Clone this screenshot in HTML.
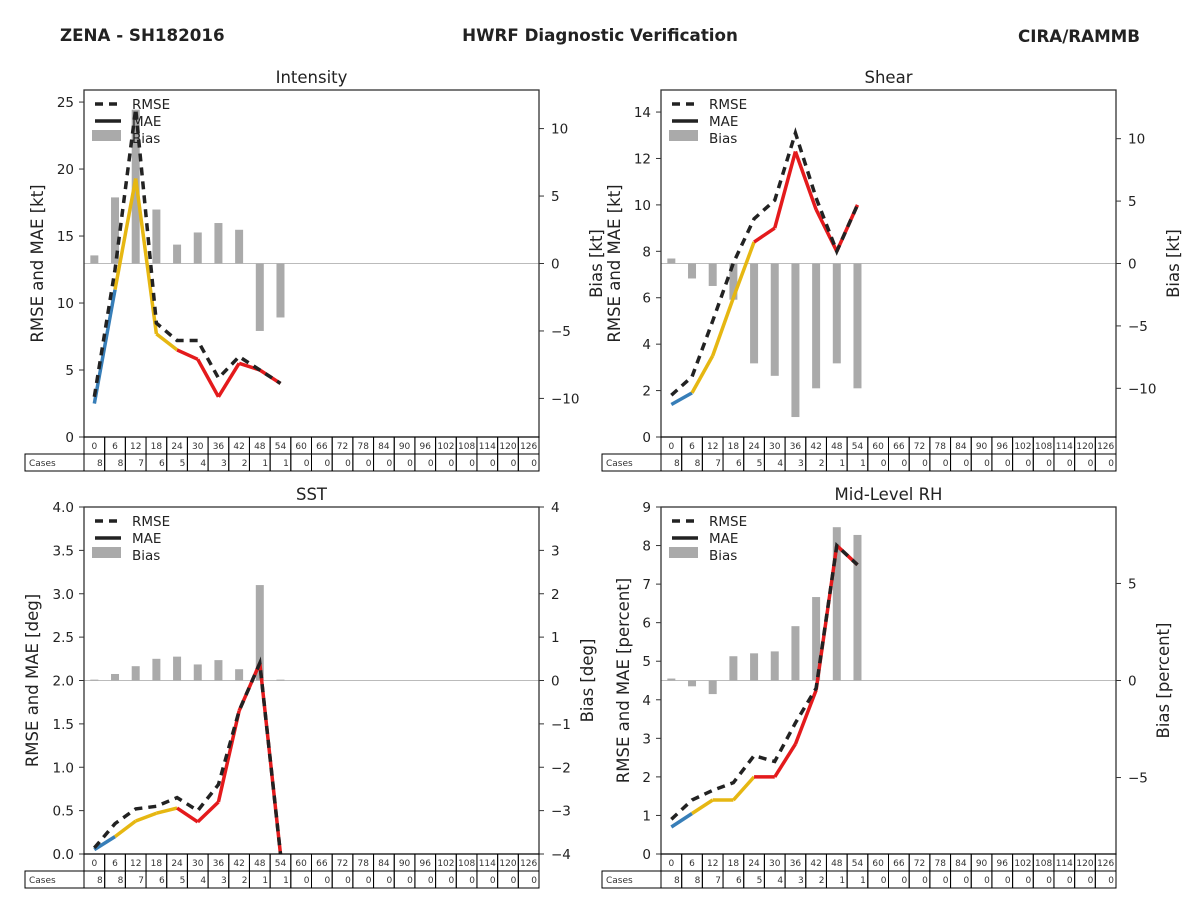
<!DOCTYPE html>
<html><head><meta charset="utf-8"><style>
html,body{margin:0;padding:0;background:#fff;}
svg{display:block;font-family:"DejaVu Sans","Liberation Sans",sans-serif;}
</style></head><body>
<svg id="c" width="1200" height="900" viewBox="0 0 1200 900" xmlns="http://www.w3.org/2000/svg">
<text x="60" y="41" font-size="16.7" font-weight="bold" fill="#222">ZENA - SH182016</text>
<text x="600" y="41" font-size="16.7" font-weight="bold" fill="#222" text-anchor="middle">HWRF Diagnostic Verification</text>
<text x="1140" y="42" font-size="16.7" font-weight="bold" fill="#222" text-anchor="end">CIRA/RAMMB</text>
</svg>
<script>
const hours = [0,6,12,18,24,30,36,42,48,54,60,66,72,78,84,90,96,102,108,114,120,126];
const cases = [8,8,7,6,5,4,3,2,1,1,0,0,0,0,0,0,0,0,0,0,0,0];
const intensityRmse = [3.0,12.5,24.5,8.5,7.2,7.2,4.4,6.0,5.0,4.0];
const intensityMae = [2.5,11.0,19.3,7.7,6.5,5.8,3.0,5.5,5.0,4.0];
const intensityBias = [0.6,4.9,11.4,4.0,1.4,2.3,3.0,2.5,-5.0,-4.0];
const shearRmse = [1.8,2.6,5.0,7.5,9.4,10.2,13.1,10.3,8.0,10.0];
const shearMae = [1.4,1.9,3.5,6.0,8.4,9.0,12.3,9.8,8.0,10.0];
const shearBias = [0.4,-1.2,-1.8,-2.9,-8.0,-9.0,-12.3,-10.0,-8.0,-10.0];
const sstRmse = [0.07,0.35,0.52,0.55,0.65,0.5,0.8,1.65,2.2,0.0];
const sstMae = [0.05,0.2,0.38,0.47,0.53,0.37,0.6,1.65,2.2,0.0];
const sstBias = [0.02,0.15,0.33,0.5,0.55,0.37,0.47,0.26,2.2,0.02];
const rhRmse = [0.9,1.4,1.65,1.85,2.55,2.4,3.4,4.3,8.0,7.5];
const rhMae = [0.7,1.05,1.4,1.4,2.0,2.0,2.85,4.25,8.0,7.5];
const rhBias = [0.1,-0.3,-0.7,1.25,1.4,1.5,2.8,4.3,7.9,7.5];
const leftTicksInt = [0,5,10,15,20,25];
const rightTicksInt = [-10,-5,0,5,10];
const leftTicksShear = [0,2,4,6,8,10,12,14];
const rightTicksShear = [-10,-5,0,5,10];
const leftTicksSst = [0,0.5,1,1.5,2,2.5,3,3.5,4];
const rightTicksSst = [-4,-3,-2,-1,0,1,2,3,4];
const leftTicksRh = [0,1,2,3,4,5,6,7,8,9];
const rightTicksRh = [-5,0,5];

const svg = document.getElementById('c');
const NS = 'http://www.w3.org/2000/svg';
function mk(tag, attrs, parent){const e=document.createElementNS(NS,tag);for(const k in attrs)e.setAttribute(k,attrs[k]);(parent||svg).appendChild(e);return e;}
function fmt(v,dec){let s=dec?v.toFixed(1):String(v);return s.replace('-','\u2212');}

const panels = [
 {key:'intensity',title:'Intensity',x0:84,y0:90,lmin:0,lmax:25.9,rmin:-12.86,rmax:12.86,lt:leftTicksInt,rt:rightTicksInt,dec:false,rmse:intensityRmse,mae:intensityMae,bias:intensityBias,ylab:'RMSE and MAE [kt]',rlab:'Bias [kt]',ylx:37,rlx:596},
 {key:'shear',title:'Shear',x0:661,y0:90,lmin:0,lmax:14.95,rmin:-13.9,rmax:13.9,lt:leftTicksShear,rt:rightTicksShear,dec:false,rmse:shearRmse,mae:shearMae,bias:shearBias,ylab:'RMSE and MAE [kt]',rlab:'Bias [kt]',ylx:614,rlx:1173},
 {key:'sst',title:'SST',x0:84,y0:507,lmin:0,lmax:4,rmin:-4,rmax:4,lt:leftTicksSst,rt:rightTicksSst,dec:true,rmse:sstRmse,mae:sstMae,bias:sstBias,ylab:'RMSE and MAE [deg]',rlab:'Bias [deg]',ylx:32,rlx:587},
 {key:'rh',title:'Mid-Level RH',x0:661,y0:507,lmin:0,lmax:9,rmin:-8.94,rmax:8.94,lt:leftTicksRh,rt:rightTicksRh,dec:false,rmse:rhRmse,mae:rhMae,bias:rhBias,ylab:'RMSE and MAE [percent]',rlab:'Bias [percent]',ylx:623,rlx:1163}
];
const W=455,H=347,N=hours.length,cw=W/N;
const segColors=['#377eb8','#e6b712','#e6b712','#e6b712'];
panels.forEach(p=>{
 const g=mk('g',{});
 
 
 const xs=i=>p.x0+cw*(i+0.5);
 const yl=v=>p.y0+H-(v-p.lmin)/(p.lmax-p.lmin)*H;
 const yr=v=>p.y0+H-(v-p.rmin)/(p.rmax-p.rmin)*H;
 const t=mk('text',{x:p.x0+W/2,y:p.y0-7,'font-size':16.5,'text-anchor':'middle',fill:'#222'},g);t.textContent=p.title;
 
 const zl=mk('line',{x1:p.x0,x2:p.x0+W,y1:yr(0),y2:yr(0),stroke:'#bbb','stroke-width':1},g);
 
 p.bias.forEach((b,i)=>{
  const y1=yr(Math.max(b,0)),y2=yr(Math.min(b,0));
  const r=mk('rect',{x:xs(i)-4,y:y1,width:8,height:Math.max(y2-y1,1),fill:'#aaa'},g);
  
 });
 for(let i=0;i<p.mae.length-1;i++){
  const c=i<segColors.length?segColors[i]:'#e41a1c';
  const l=mk('line',{x1:xs(i),y1:yl(p.mae[i]),x2:xs(i+1),y2:yl(p.mae[i+1]),stroke:c,'stroke-width':3.5},g);
  
 }
 const pts=p.rmse.map((v,i)=>xs(i)+','+yl(v)).join(' ');
 const pl=mk('polyline',{points:pts,fill:'none',stroke:'#222','stroke-width':3.5,'stroke-dasharray':'8,6'},g);
 
 const fr=mk('rect',{x:p.x0,y:p.y0,width:W,height:H,fill:'none',stroke:'#333','stroke-width':1.3},g);
 
 p.lt.forEach(v=>{
  const y=yl(v);
  mk('line',{x1:p.x0-5,x2:p.x0,y1:y,y2:y,stroke:'#333'},g);
  const tx=mk('text',{x:p.x0-10,y:y+5,'font-size':13.5,'text-anchor':'end',fill:'#222'},g);tx.textContent=fmt(v,p.dec);
  
 });
 p.rt.forEach(v=>{
  const y=yr(v);
  mk('line',{x1:p.x0+W,x2:p.x0+W+5,y1:y,y2:y,stroke:'#333'},g);
  const tx=mk('text',{x:p.x0+W+12,y:y+5,'font-size':13.5,fill:'#222'},g);tx.textContent=fmt(v,false);
  
 });
 const cy=p.y0+H/2;
 const yl1=mk('text',{x:p.ylx+6,y:cy,'font-size':16.5,'text-anchor':'middle',fill:'#222',transform:`rotate(-90 ${p.ylx+6} ${cy})`},g);yl1.textContent=p.ylab;
 
 const yl2=mk('text',{x:p.rlx+6,y:cy,'font-size':16.5,'text-anchor':'middle',fill:'#222',transform:`rotate(-90 ${p.rlx+6} ${cy})`},g);yl2.textContent=p.rlab;
 
 const lg=mk('g',{},g);
 const lx=p.x0+11,ly=p.y0+14;
 mk('line',{x1:lx,x2:lx+26,y1:ly,y2:ly,stroke:'#222','stroke-width':3.5,'stroke-dasharray':'8,6'},lg);
 mk('line',{x1:lx,x2:lx+26,y1:ly+17,y2:ly+17,stroke:'#222','stroke-width':3.5},lg);
 mk('rect',{x:lx-3,y:ly+26,width:29,height:11,fill:'#aaa'},lg);
 [['RMSE',0],['MAE',17],['Bias',34]].forEach(([s,d])=>{const tx=mk('text',{x:lx+37,y:ly+5+d,'font-size':13.5,fill:'#222'},lg);tx.textContent=s;
  });
 const tb=mk('g',{},g);
 const ty=p.y0+H;
 mk('rect',{x:p.x0-59,y:ty+17,width:59,height:17,fill:'none',stroke:'#000'},tb);
 const cl=mk('text',{x:p.x0-55,y:ty+29,'font-size':9,fill:'#333'},tb);cl.textContent='Cases';
 hours.forEach((h,i)=>{
  const x=p.x0+cw*i;
  mk('rect',{x:x,y:ty,width:cw,height:17,fill:'none',stroke:'#000'},tb);
  mk('rect',{x:x,y:ty+17,width:cw,height:17,fill:'none',stroke:'#000'},tb);
  const ht=mk('text',{x:x+cw/2,y:ty+12,'font-size':9,'text-anchor':'middle',fill:'#333'},tb);ht.textContent=h;
  const ct=mk('text',{x:x+cw-2,y:ty+29,'font-size':9,'text-anchor':'end',fill:'#333'},tb);ct.textContent=cases[i];
 });
});
</script>
</body></html>
